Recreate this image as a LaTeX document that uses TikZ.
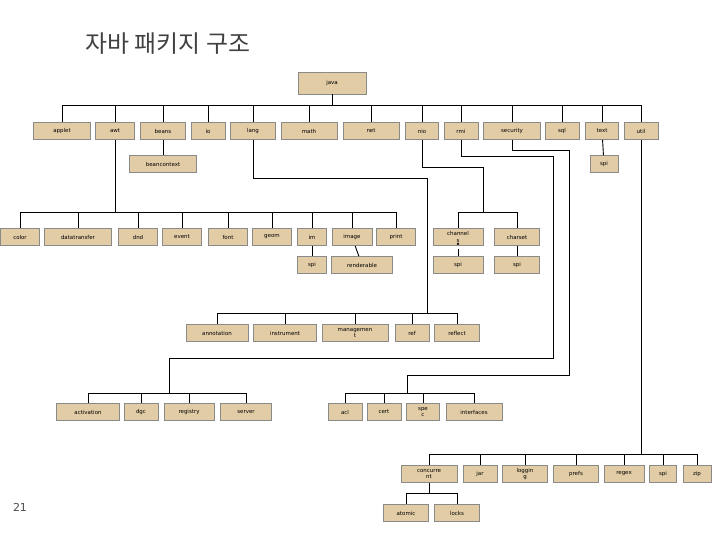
\documentclass[tikz,border=0pt]{standalone}
\usepackage{fontspec}
\setmainfont{DejaVu Sans}
\newfontfamily\krfont{Noto Sans CJK KR}
\usetikzlibrary{positioning}
\definecolor{boxtan}{HTML}{E2CCA6}
\definecolor{boxline}{HTML}{8A8A8A}
\tikzset{
  pkg/.style={draw=boxline, fill=boxtan, line width=0.8pt, inner sep=0pt, minimum height=17bp,
    align=center, font=\fontsize{5.5}{5.5}\selectfont},
  link/.style={line width=0.9pt, black},
}
% package box: name, x, y, width, text
\newcommand{\pk}[5]{\node[pkg, minimum width=#4bp] (#1) at (#2,#3) {#5};}
\begin{document}
\begin{tikzpicture}[x=1bp,y=-1bp]
\useasboundingbox (0,0) rectangle (720,540);
% Title and page number
\node[anchor=west, font=\krfont\fontsize{24}{24}\selectfont, text=black!75] (title) at (82,44) {자바 패키지 구조};
\node[font=\fontsize{11}{11}\selectfont, text=black!70] (page) at (20,507) {21};
% Top level
\node[pkg, minimum width=68bp, minimum height=22bp] (java) at (332,83) {java};
\pk{applet}{62}{131}{57}{applet}
\pk{awt}{115}{131}{39}{awt}
\pk{beans}{163}{131}{45}{beans}
\pk{io}{208}{131}{34}{io}
\pk{lang}{253}{131}{45}{lang}
\pk{math}{309}{131}{56}{math}
\pk{net}{371}{131}{56}{net}
\pk{nio}{422}{131}{33}{nio}
\pk{rmi}{461}{131}{34}{rmi}
\pk{security}{512}{131}{57}{security}
\pk{sql}{562}{131}{34}{sql}
\pk{text}{602}{131}{33}{text}
\pk{util}{641}{131}{34}{util}
\pk{beancontext}{163}{164}{67}{beancontext}
\pk{textspi}{604}{164}{28}{spi}
% awt children
\pk{color}{20}{237}{39}{color}
\pk{datatransfer}{78}{237}{67}{datatransfer}
\pk{dnd}{138}{237}{39}{dnd}
\pk{event}{182}{237}{39}{event}
\pk{font}{228}{237}{39}{font}
\pk{geom}{272}{237}{39}{geom}
\pk{im}{312}{237}{29}{im}
\pk{image}{352}{237}{40}{image}
\pk{print}{396}{237}{39}{print}
\pk{imspi}{312}{265}{29}{spi}
\pk{renderable}{362}{265}{61}{renderable}
% nio children
\pk{channels}{458}{237}{50}{channel\\[1pt]s}
\pk{charset}{517}{237}{45}{charset}
\pk{chspi}{458}{265}{50}{spi}
\pk{csspi}{517}{265}{45}{spi}
% lang children
\pk{annotation}{217}{333}{62}{annotation}
\pk{instrument}{285}{333}{63}{instrument}
\pk{management}{355}{333}{66}{managemen\\[1pt]t}
\pk{ref}{412}{333}{34}{ref}
\pk{reflect}{457}{333}{45}{reflect}
% rmi children
\pk{activation}{88}{412}{63}{activation}
\pk{dgc}{141}{412}{34}{dgc}
\pk{registry}{189}{412}{50}{registry}
\pk{server}{246}{412}{51}{server}
% security children
\pk{acl}{345}{412}{34}{acl}
\pk{cert}{384}{412}{34}{cert}
\pk{spec}{423}{412}{33}{spe\\[1pt]c}
\pk{interfaces}{474}{412}{56}{interfaces}
% util children
\pk{concurrent}{429}{474}{56}{concurre\\[1pt]nt}
\pk{jar}{480}{474}{34}{jar}
\pk{logging}{525}{474}{45}{loggin\\[1pt]g}
\pk{prefs}{576}{474}{45}{prefs}
\pk{regex}{624}{474}{40}{regex}
\pk{utilspi}{663}{474}{27}{spi}
\pk{zip}{697}{474}{28}{zip}
\pk{atomic}{406}{513}{45}{atomic}
\pk{locks}{457}{513}{45}{locks}
% Bus points and bends
\coordinate (javabus) at (332,105);
\coordinate (awtbus) at (115,212);
\coordinate (langbend) at (427,178);
\coordinate (langbus) at (427,313);
\coordinate (niobend) at (483,167);
\coordinate (niobus) at (483,212);
\coordinate (rmibend) at (553,156);
\coordinate (rmidown) at (553,358);
\coordinate (rmileft) at (169,358);
\coordinate (rmibus) at (169,393);
\coordinate (secbend) at (569,150);
\coordinate (secdown) at (569,375);
\coordinate (secleft) at (407,375);
\coordinate (secbus) at (407,393);
\coordinate (utilbus) at (641,454);
\coordinate (concbus) at (429,493);
% java tree
\draw[link] (java.south) -- (javabus);
\foreach \c in {applet,awt,beans,io,lang,math,net,nio,rmi,security,sql,text,util}
  \draw[link] (javabus) -| (\c.north);
\draw[link] (beans) -- (beancontext);
\draw[link] (text) -- (textspi);
% awt tree
\draw[link] (awt.south) -- (awtbus);
\foreach \c in {color,datatransfer,dnd,event,font,geom,im,image,print}
  \draw[link] (awtbus) -| (\c.north);
\draw[link] (im) -- (imspi);
\draw[link] (image) -- (renderable);
% nio tree
\draw[link] (nio.south) |- (niobend) -- (niobus);
\foreach \c in {channels,charset}
  \draw[link] (niobus) -| (\c.north);
\draw[link] (chspi.north) -- ([yshift=-3bp]channels.south);
\fill (channels.south) ++(0,-2) circle (1.2bp);
\draw[link] (charset) -- (csspi);
% lang tree
\draw[link] (lang.south) |- (langbend) -- (langbus);
\foreach \c in {annotation,instrument,management,ref,reflect}
  \draw[link] (langbus) -| (\c.north);
% rmi tree
\draw[link] (rmi.south) |- (rmibend) -- (rmidown) -- (rmileft) -- (rmibus);
\foreach \c in {activation,dgc,registry,server}
  \draw[link] (rmibus) -| (\c.north);
% security tree
\draw[link] (security.south) |- (secbend) -- (secdown) -- (secleft) -- (secbus);
\foreach \c in {acl,cert,spec,interfaces}
  \draw[link] (secbus) -| (\c.north);
% util tree
\draw[link] (util.south) -- (utilbus);
\foreach \c in {concurrent,jar,logging,prefs,regex,utilspi,zip}
  \draw[link] (utilbus) -| (\c.north);
\draw[link] (concurrent.south) -- (concbus);
\foreach \c in {atomic,locks}
  \draw[link] (concbus) -| (\c.north);
\end{tikzpicture}
\end{document}
